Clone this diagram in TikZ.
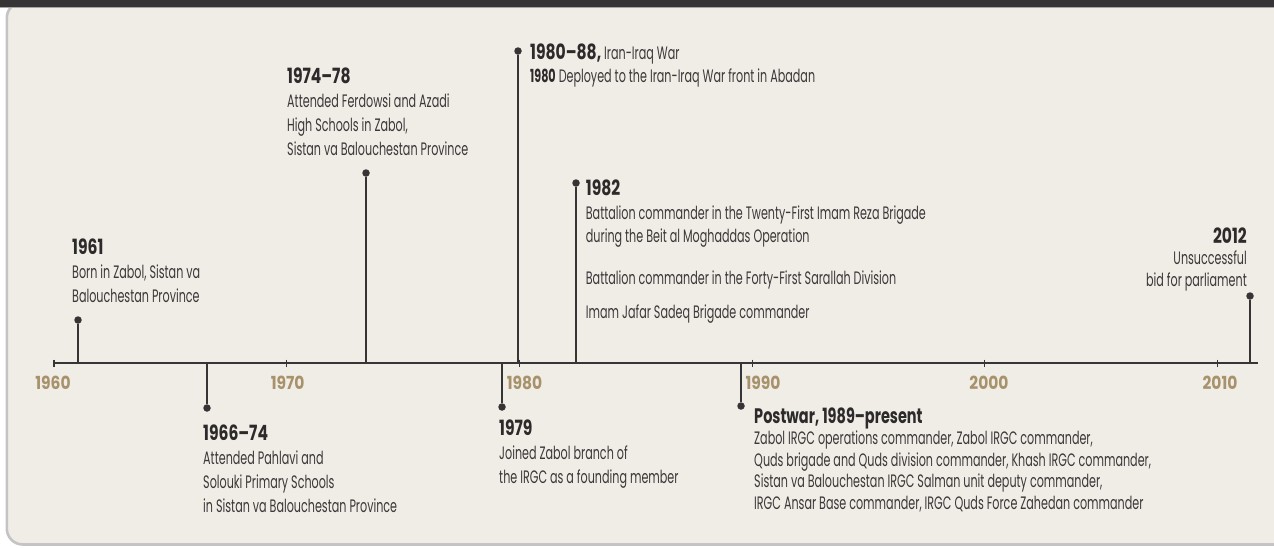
\documentclass[tikz,border=0pt]{standalone}
\usepackage{fontspec}
\setmainfont{Poppins}[FakeStretch=0.62]
\newfontfamily\bodyfont{Poppins}[FakeStretch=0.62]
\newfontfamily\hfont{Poppins}[FakeStretch=0.74]
\newfontfamily\pwfont{Poppins}[FakeStretch=0.69]
\newfontfamily\yfont{Poppins}[FakeStretch=0.86]
\definecolor{cream}{HTML}{F0EDE6}
\definecolor{barc}{HTML}{363435}
\definecolor{edgec}{HTML}{C4C4C6}
\definecolor{linec}{HTML}{363435}
\definecolor{headc}{HTML}{2C2A2B}
\definecolor{bodyc}{HTML}{3A3839}
\definecolor{tanc}{HTML}{A8926C}
\newcommand\lstack[2]{\vtop{\baselineskip=#1\lineskiplimit=-30pt\relax\halign{##\hfil\cr#2\crcr}}}
\newcommand\rstack[2]{\vtop{\baselineskip=#1\lineskiplimit=-30pt\relax\halign{\hfil##\cr#2\crcr}}}
\newcommand\hd[1]{{\color{headc}\hfont\bfseries\fontsize{21}{24}\selectfont #1}}
\newcommand\pw[1]{{\color{headc}\pwfont\bfseries\fontsize{21}{24}\selectfont #1}}
\newcommand\bd[1]{{\color{headc}\bfseries #1}}
\tikzset{
  stem/.style={draw=linec, line width=1.3pt},
  dotnode/.style={circle, fill=linec, inner sep=0pt, minimum size=7.5pt},
  tickline/.style={draw=linec, line width=1.1pt},
  axisline/.style={draw=linec, line width=1.3pt},
  yearlab/.style={text=tanc, font=\yfont\bfseries\fontsize{18}{20}\selectfont, inner sep=0pt, anchor=base},
  txt/.style={inner sep=0pt, anchor=base west, text=bodyc, font=\bodyfont\fontsize{18}{24}\selectfont},
  rtxt/.style={inner sep=0pt, anchor=base east, text=bodyc, font=\bodyfont\fontsize{18}{24}\selectfont},
}
\begin{document}
\begin{tikzpicture}[x=1pt,y=-1pt]
\useasboundingbox (0,0) rectangle (1274,547);
\fill[white] (0,0) rectangle (1274,547);
\begin{scope}
\clip (0,0) rectangle (1274,547);
\draw[draw=edgec, line width=2.6pt, fill=cream, rounded corners=16pt] (6.8,2) rectangle (1300,544.5);
\fill[barc] (0,0) rectangle (1274,6.6);
\draw[draw=gray!70, line width=1pt] (0,7.1) -- (1274,7.1);
\end{scope}

% axis
\coordinate (axL) at (53,363);
\coordinate (axR) at (1258,363);
\draw[axisline] (axL) -- (axR);
\foreach \yr/\xx/\lx in {1960/54/53, 1970/286.7/287.7, 1980/519.4/524.5, 1990/752.1/763, 2000/984.8/989, 2010/1217.5/1220}{
  \coordinate (tt\yr) at (\xx,359.5);
  \coordinate (tb\yr) at (\xx,366.8);
  \draw[tickline] (tt\yr) -- (tb\yr);
  \node[yearlab] (yl\yr) at (\lx,389.3) {\yr};
}

% 1961
\coordinate (a61) at (78,363);
\node[dotnode] (d61) at (78,320) {};
\draw[stem] (d61) -- (a61);
\node[txt] (t61) at (72,254) {\lstack{24pt}{\hd{1961}\cr Born in Zabol, Sistan va\cr Balouchestan Province}};

% 1966-74
\coordinate (a66) at (207,363);
\node[dotnode] (d66) at (207,408) {};
\draw[stem] (a66) -- (d66);
\node[txt] (t66) at (203,440) {\lstack{24pt}{\hd{1966–74}\cr Attended Pahlavi and\cr Solouki Primary Schools\cr in Sistan va Balouchestan Province}};

% 1974-78
\coordinate (a74) at (366,363);
\node[dotnode] (d74) at (366,173) {};
\draw[stem] (d74) -- (a74);
\node[txt] (t74) at (287,83.3) {\lstack{24pt}{\hd{1974–78}\cr Attended Ferdowsi and Azadi\cr High Schools in Zabol,\cr Sistan va Balouchestan Province}};

% 1979
\coordinate (a79) at (502,363);
\node[dotnode] (d79) at (502,407) {};
\draw[stem] (a79) -- (d79);
\node[txt] (t79) at (499,435) {\lstack{24pt}{\hd{1979}\cr Joined Zabol branch of\cr the IRGC as a founding member}};

% 1980-88
\coordinate (a80) at (518,363);
\node[dotnode] (d80) at (518,51) {};
\draw[stem] (d80) -- (a80);
\node[txt] (t80) at (530,59.3) {\lstack{23.4pt}{\hd{1980–88,} Iran-Iraq War\cr \bd{1980} Deployed to the Iran-Iraq War front in Abadan}};

% 1982
\coordinate (a82) at (576,363);
\node[dotnode] (d82) at (576,183) {};
\draw[stem] (d82) -- (a82);
\node[txt] (t82) at (585.7,195.3) {\lstack{23.8pt}{\hd{1982}\cr Battalion commander in the Twenty-First Imam Reza Brigade\cr during the Beit al Moghaddas Operation}};
\node[txt] (t82b) at (585.7,284) {Battalion commander in the Forty-First Sarallah Division};
\node[txt] (t82c) at (585.7,318.7) {Imam Jafar Sadeq Brigade commander};

% Postwar
\coordinate (a89) at (741,363);
\node[dotnode] (d89) at (741,406) {};
\draw[stem] (a89) -- (d89);
\node[txt] (t89) at (754,423.3) {\lstack{21.5pt}{\pw{Postwar, 1989–present}\cr Zabol IRGC operations commander, Zabol IRGC commander,\cr Quds brigade and Quds division commander, Khash IRGC commander,\cr Sistan va Balouchestan IRGC Salman unit deputy commander,\cr IRGC Ansar Base commander, IRGC Quds Force Zahedan commander}};

% 2012
\coordinate (a12) at (1250,364);
\node[dotnode] (d12) at (1250,296) {};
\draw[stem] (d12) -- (a12);
\node[rtxt] (t12) at (1247,243.3) {\rstack{21.4pt}{\hd{2012}\cr Unsuccessful\cr bid for parliament}};
\end{tikzpicture}
\end{document}
